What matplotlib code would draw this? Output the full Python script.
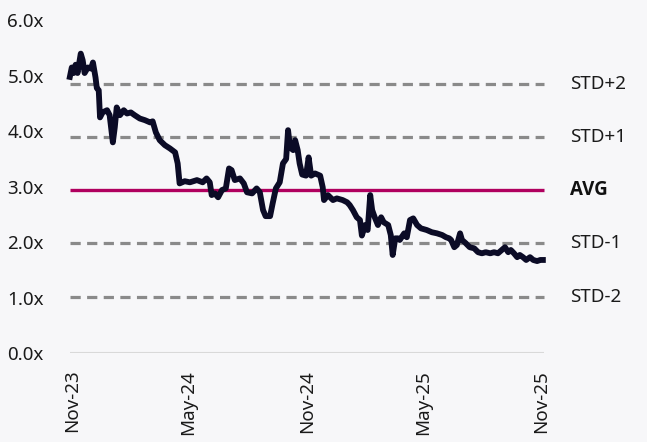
import matplotlib
matplotlib.use("Agg")
import matplotlib.pyplot as plt
import matplotlib.dates as mdates
import pandas as pd

# Data (multiple, in x)
dates = [
    "2023-10-29", "2023-11-01", "2023-11-04", "2023-11-07", "2023-11-10", "2023-11-15",
    "2023-11-18", "2023-11-21", "2023-11-26", "2023-12-01", "2023-12-04", "2023-12-08",
    "2023-12-10", "2023-12-13", "2023-12-15", "2023-12-19", "2023-12-26", "2023-12-30",
    "2024-01-04", "2024-01-07", "2024-01-10", "2024-01-15", "2024-01-21", "2024-01-26",
    "2024-02-01", "2024-02-07", "2024-02-15", "2024-02-23", "2024-03-02", "2024-03-06",
    "2024-03-11", "2024-03-17", "2024-03-25", "2024-04-02", "2024-04-10", "2024-04-14",
    "2024-04-17", "2024-04-25", "2024-05-03", "2024-05-14", "2024-05-23", "2024-05-29",
    "2024-06-03", "2024-06-06", "2024-06-11", "2024-06-16", "2024-06-22", "2024-06-28",
    "2024-07-03", "2024-07-07", "2024-07-12", "2024-07-20", "2024-07-26", "2024-07-31",
    "2024-08-08", "2024-08-15", "2024-08-20", "2024-08-25", "2024-08-29", "2024-09-05",
    "2024-09-09", "2024-09-14", "2024-09-20", "2024-09-25", "2024-09-30", "2024-10-03",
    "2024-10-06", "2024-10-11", "2024-10-14", "2024-10-18", "2024-10-21", "2024-10-25",
    "2024-10-31", "2024-11-04", "2024-11-08", "2024-11-14", "2024-11-22", "2024-11-26",
    "2024-11-28", "2024-12-04", "2024-12-12", "2024-12-18", "2024-12-27", "2025-01-03",
    "2025-01-07", "2025-01-12", "2025-01-18", "2025-01-23", "2025-01-26", "2025-01-31",
    "2025-02-04", "2025-02-08", "2025-02-11", "2025-02-15", "2025-02-20", "2025-02-25",
    "2025-03-01", "2025-03-08", "2025-03-12", "2025-03-15", "2025-03-19", "2025-03-23",
    "2025-03-26", "2025-04-02", "2025-04-06", "2025-04-11", "2025-04-16", "2025-04-22",
    "2025-04-28", "2025-05-07", "2025-05-15", "2025-05-23", "2025-05-31", "2025-06-06",
    "2025-06-11", "2025-06-14", "2025-06-19", "2025-06-23", "2025-06-28", "2025-07-01",
    "2025-07-07", "2025-07-13", "2025-07-20", "2025-07-26", "2025-08-01", "2025-08-07",
    "2025-08-14", "2025-08-20", "2025-08-26", "2025-09-01", "2025-09-06", "2025-09-11",
    "2025-09-15", "2025-09-20", "2025-09-25", "2025-09-29", "2025-10-04", "2025-10-09",
    "2025-10-15", "2025-10-20", "2025-10-26", "2025-10-31", "2025-11-04",
]
multiple = [
    4.98, 5.15, 5.05, 5.20, 5.05, 5.40,
    5.28, 5.05, 5.15, 5.13, 5.24, 4.97,
    4.78, 4.74, 4.25, 4.34, 4.38, 4.29,
    3.80, 4.07, 4.43, 4.29, 4.38, 4.32,
    4.34, 4.29, 4.23, 4.20, 4.16, 4.18,
    3.98, 3.84, 3.75, 3.69, 3.62, 3.42,
    3.06, 3.10, 3.08, 3.12, 3.08, 3.15,
    3.08, 2.85, 2.88, 2.81, 2.94, 2.97,
    3.33, 3.30, 3.12, 3.15, 3.06, 2.90,
    2.88, 2.97, 2.90, 2.58, 2.47, 2.47,
    2.70, 2.97, 3.08, 3.42, 3.50, 4.02,
    3.71, 3.66, 3.84, 3.66, 3.42, 3.22,
    3.20, 3.53, 3.20, 3.24, 3.20, 2.99,
    2.76, 2.85, 2.76, 2.79, 2.76, 2.72,
    2.67, 2.58, 2.45, 2.40, 2.12, 2.31,
    2.22, 2.85, 2.58, 2.45, 2.31, 2.45,
    2.36, 2.31, 2.13, 1.77, 2.07, 2.07,
    2.04, 2.16, 2.09, 2.40, 2.43, 2.31,
    2.25, 2.22, 2.18, 2.16, 2.13, 2.09,
    2.07, 2.04, 1.91, 1.95, 2.16, 2.04,
    1.98, 1.91, 1.89, 1.82, 1.80, 1.82,
    1.80, 1.82, 1.80, 1.86, 1.91, 1.82,
    1.86, 1.80, 1.73, 1.77, 1.73, 1.68,
    1.73, 1.68, 1.66, 1.68, 1.68,
]

avg = 2.95
std_levels = [4.85, 3.90, 1.98, 1.01]
std_labels = ["STD+2", "STD+1", "STD-1", "STD-2"]
tick_dates = ["2023-11-01", "2024-05-01", "2024-11-01", "2025-05-01", "2025-11-01"]

x = pd.to_datetime(dates)
x0, x1 = pd.Timestamp("2023-10-29"), pd.Timestamp("2025-11-06")

plt.rcParams["font.family"] = ["Noto Sans", "DejaVu Sans"]
bg = "#f7f7f9"
fig = plt.figure(figsize=(6.47, 4.42), dpi=100, facecolor=bg)
ax = fig.add_axes([0.102, 0.201, 0.745, 0.753], facecolor=bg)

# reference bands
ax.hlines(std_levels, x0, x1, colors="#8a8a8a", linestyles=(0, (3.2, 2.0)), linewidth=2.3)
ax.hlines(avg, x0, x1, colors="#b0005f", linewidth=2.4, zorder=3)
ax.hlines(0, x0, x1, colors="#d9d9d9", linewidth=1.5)
ax.plot(x, multiple, color="#0b0b26", linewidth=4.2, solid_joinstyle="round", zorder=4)

# labels on the right
for lvl, lab in zip(std_levels, std_labels):
    ax.text(1.045, lvl, lab, transform=ax.get_yaxis_transform(), va="center",
            ha="left", fontsize=13.5, color="#1a1a1a")
ax.text(1.045, avg, "AVG", transform=ax.get_yaxis_transform(), va="center",
        ha="left", fontsize=13.5, fontweight="bold", color="#111111",
        family=["Open Sans", "DejaVu Sans"])

ax.set_ylim(0, 6)
ax.set_yticks([0, 1, 2, 3, 4, 5, 6])
ax.set_yticklabels([f"{v:.1f}x" for v in range(7)])
ax.set_xlim(pd.Timestamp("2023-10-23"), pd.Timestamp("2025-11-12"))
ax.set_xticks(pd.to_datetime(tick_dates))
ax.xaxis.set_major_formatter(mdates.DateFormatter("%b-%y"))
ax.tick_params(axis="both", length=0, labelsize=13.5, colors="#1a1a1a")
ax.tick_params(axis="y", pad=16)
ax.tick_params(axis="x", pad=12, labelrotation=90)
for s in ax.spines.values():
    s.set_visible(False)

fig.savefig("out.png", dpi=100, facecolor=bg)
